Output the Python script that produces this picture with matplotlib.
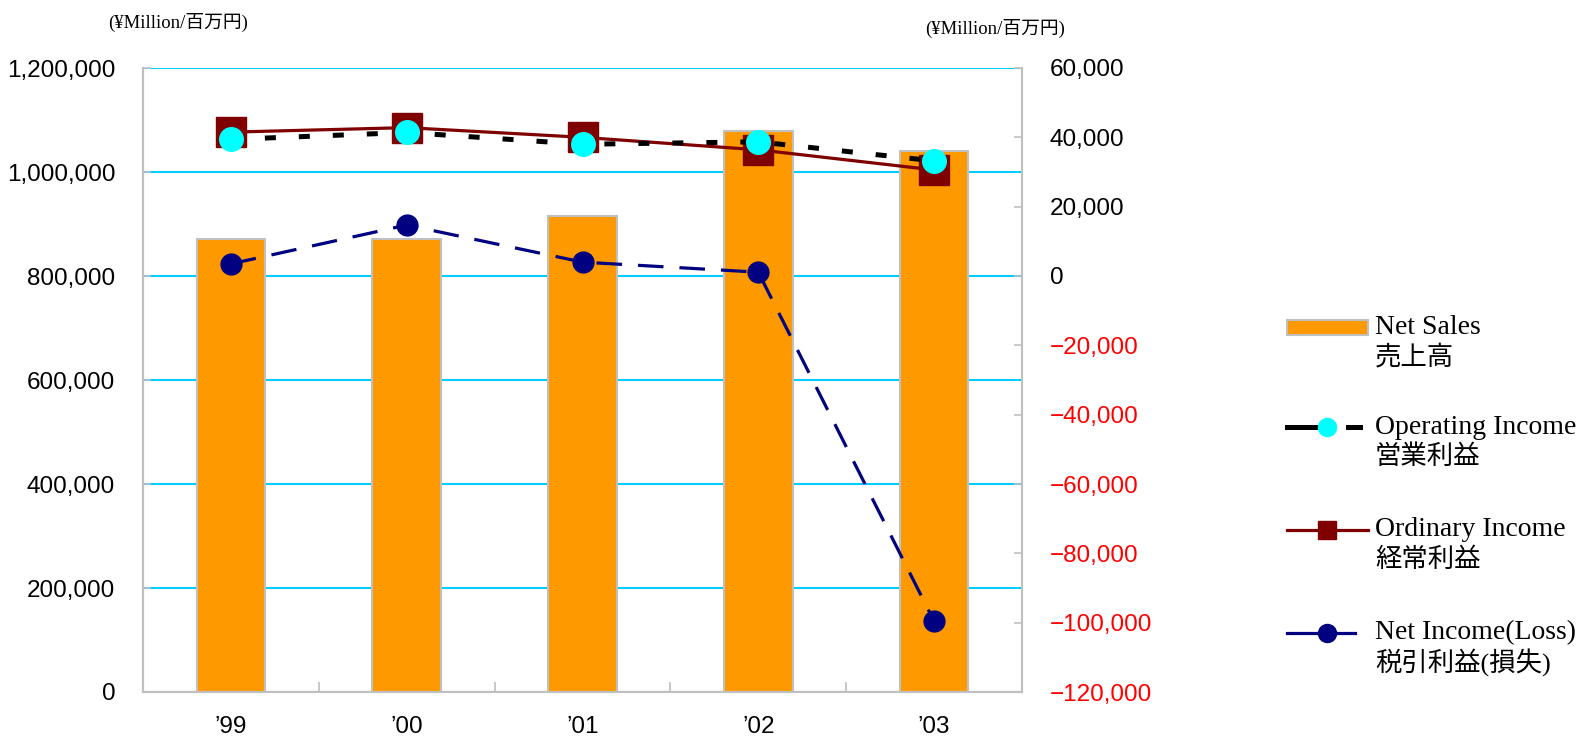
import numpy as np
import matplotlib.pyplot as plt
from matplotlib.lines import Line2D
from matplotlib.patches import Rectangle

# data
years = ["’99", "’00", "’01", "’02", "’03"]
net_sales = [871000, 871000, 916000, 1079000, 1041000]
operating_income = [39400, 41400, 38000, 38700, 33200]
ordinary_income = [41500, 42800, 40000, 36400, 30600]
net_income = [3500, 14700, 4000, 1100, -99600]

left_ticks = np.arange(0, 1200001, 200000)
right_ticks = np.arange(-120000, 60001, 20000)

legend_labels = [("Net Sales", "売上高"),
                 ("Operating Income", "営業利益"),
                 ("Ordinary Income", "経常利益"),
                 ("Net Income(Loss)", "税引利益(損失)")]
unit_label = "(¥Million/百万円)"

W, H = 1582, 740
SANS = ["Liberation Sans", "DejaVu Sans"]
SERIF = ["Liberation Serif", "Noto Sans CJK JP", "DejaVu Sans"]
GRAY = "#C0C0C0"


def px(x, y):
    return x / W, 1 - y / H


fig = plt.figure(figsize=(W / 100, H / 100), dpi=100)
l, b = px(143, 692)
r, t = px(1022, 68)
ax = fig.add_axes([l, b, r - l, t - b])
ax2 = ax.twinx()

x = np.arange(len(years))
ax.bar(x, net_sales, width=0.39, color="#FF9900", edgecolor=GRAY, linewidth=1.5, zorder=3)
ax.set_xlim(-0.5, len(years) - 0.5)
ax.set_ylim(0, 1200000)
ax.set_yticks(left_ticks)
ax.set_yticklabels([f"{v:,}" for v in left_ticks], fontfamily=SANS, fontsize=17.5)
ax.yaxis.grid(True, color="#00CCFF", linewidth=1.5, zorder=0)
ax.set_axisbelow(True)
ax.set_xticks(x)
ax.set_xticklabels(years, fontfamily=SANS, fontsize=17.5)
ax.set_xticks(x[:-1] + 0.5, minor=True)
ax.tick_params(axis="x", which="major", length=0, pad=17)
ax.tick_params(axis="x", which="minor", direction="in", length=7, color=GRAY, width=1.2)
ax.tick_params(axis="y", direction="in", length=6, color=GRAY, width=1.2, pad=20)

for side in ["left", "right", "bottom"]:
    ax.spines[side].set_color(GRAY)
    ax.spines[side].set_linewidth(1.5)
    ax2.spines[side].set_color(GRAY)
    ax2.spines[side].set_linewidth(1.5)
ax.spines["top"].set_visible(False)
ax2.spines["top"].set_visible(False)

ax2.plot(x, ordinary_income, color="#7F0000", linewidth=2.3, marker="s",
         markersize=22, markerfacecolor="#7F0000", markeredgecolor="#7F0000", zorder=3)
ax2.plot(x, operating_income, color="black", linewidth=3.6, dashes=(2.2, 4.6),
         marker="o", markersize=17, markerfacecolor="#00FFFF", markeredgecolor="#00FFFF", zorder=4)
ax2.plot(x, net_income, color="#000080", linewidth=2.3, dashes=(8, 5),
         marker="o", markersize=15, markerfacecolor="#000080", markeredgecolor="#000080", zorder=5)
ax2.set_ylim(-120000, 60000)
ax2.set_yticks(right_ticks)
ax2.set_yticklabels([f"{v:,}".replace("-", "−") for v in right_ticks], fontfamily=SANS, fontsize=17.5)
for v, lab in zip(right_ticks, ax2.get_yticklabels()):
    lab.set_color("red" if v < 0 else "black")
ax2.tick_params(axis="y", direction="in", length=6, color=GRAY, width=1.2, pad=20)

# unit labels
fig.text(*px(108, 22), unit_label, fontfamily=SERIF, fontsize=13.5, va="center", ha="left")
fig.text(*px(925, 28), unit_label, fontfamily=SERIF, fontsize=13.5, va="center", ha="left")

# legend drawn by hand
tf = fig.transFigure
ys = [327, 427, 530, 633]
x0, x1, xm = 1287, 1368, 1327
fig.add_artist(Rectangle(px(x0, ys[0] + 7.5), (x1 - x0) / W, 15 / H, transform=tf,
                         facecolor="#FF9900", edgecolor=GRAY, linewidth=1.5))
a, y = px(x0, ys[1])
c, _ = px(1318, ys[1])
fig.add_artist(Line2D([a, c], [y, y], transform=tf, color="black", linewidth=3.6))
d, _ = px(1348, ys[1])
e, _ = px(1360, ys[1])
fig.add_artist(Line2D([d, e], [y, y], transform=tf, color="black", linewidth=3.6))
fig.add_artist(Line2D([px(xm, 0)[0]], [y], transform=tf, marker="o", markersize=13,
                      markerfacecolor="#00FFFF", markeredgecolor="#00FFFF", linestyle="none"))
a, y = px(x0, ys[2])
c, _ = px(x1, ys[2])
fig.add_artist(Line2D([a, c], [y, y], transform=tf, color="#7F0000", linewidth=2.3))
fig.add_artist(Line2D([px(xm, 0)[0]], [y], transform=tf, marker="s", markersize=13,
                      markerfacecolor="#7F0000", markeredgecolor="#7F0000", linestyle="none"))
a, y = px(x0, ys[3])
c, _ = px(1355, ys[3])
fig.add_artist(Line2D([a, c], [y, y], transform=tf, color="#000080", linewidth=2.3))
fig.add_artist(Line2D([px(xm, 0)[0]], [y], transform=tf, marker="o", markersize=13,
                      markerfacecolor="#000080", markeredgecolor="#000080", linestyle="none"))
for yy, (en, jp) in zip(ys, legend_labels):
    fig.text(*px(1375, yy), en, fontfamily=SERIF, fontsize=20, va="center", ha="left")
    fig.text(*px(1375, yy + 30), jp, fontfamily=SERIF, fontsize=19, va="center", ha="left")

fig.savefig("out.png", dpi=100)
